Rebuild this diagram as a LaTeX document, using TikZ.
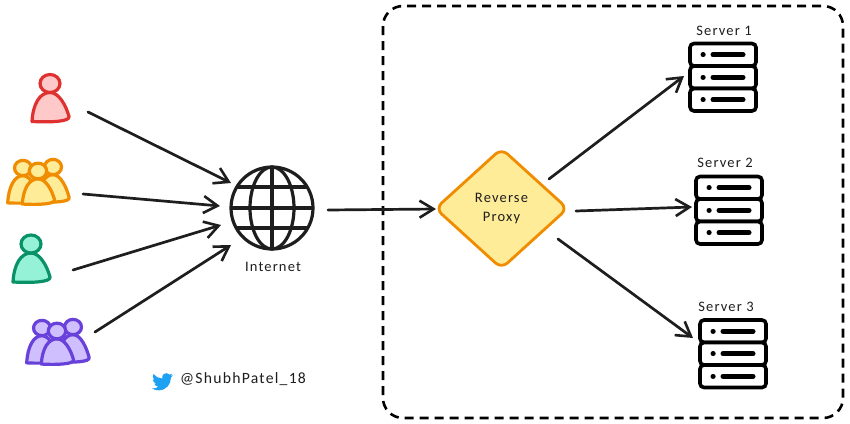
\documentclass[tikz,border=0pt]{standalone}
\usepackage{fontspec}
\setmainfont[LetterSpace=8]{Carlito}
\usetikzlibrary{arrows.meta,shapes.geometric}
\definecolor{redS}{HTML}{E03131}\definecolor{redF}{HTML}{FFC9C9}
\definecolor{orgS}{HTML}{F08C00}\definecolor{orgF}{HTML}{FFEC99}
\definecolor{grnS}{HTML}{099268}\definecolor{grnF}{HTML}{96F2D7}
\definecolor{purS}{HTML}{6741D9}\definecolor{purF}{HTML}{D0BFFF}
\definecolor{ink}{HTML}{1E1E1E}\definecolor{bird}{HTML}{1DA1F2}
\tikzset{
 x=1pt,y=-1pt,
 conn/.style={draw=ink,line width=2.7pt,line cap=round,-{Straight Barb[length=14pt,width=17pt,line width=2.6pt]}},
 label/.style={text=ink,font=\fontsize{14.5}{16}\selectfont,inner sep=0pt,align=center},
 person/.pic={
  \path[pic actions,line width=3.2pt,line join=round] (-18,38) .. controls (-17,20) and (-10,9) .. (0,9)
    .. controls (9,9) and (16,22) .. (19,33) .. controls (20,38) and (2,39) .. (-18,38) -- cycle;
  \path[pic actions,line width=3.2pt] (0,0) ellipse[x radius=10,y radius=9];
 },
 sideperson/.pic={
  \path[pic actions,line width=3.2pt,line join=round] (-18,41) .. controls (-17,22) and (-10,9) .. (0,9)
    .. controls (9,9) and (16,24) .. (19,36) .. controls (20,41) and (2,42) .. (-18,41) -- cycle;
  \path[pic actions,line width=3.2pt] (0,0) ellipse[x radius=10,y radius=9];
 },
 serverrow/.pic={
  \draw[black,line width=3.6pt,fill=white,rounded corners=4pt] (0,0) rectangle (66,22.5);
  \draw[black,line width=5pt,line cap=round] (13,11.2) -- (13.2,11.2) (23,11.2) -- (53,11.2);
 },
 server/.pic={
  \pic at (0,0) {serverrow};
  \pic at (0,22.5) {serverrow};
  \pic at (0,45) {serverrow};
 }
}
\begin{document}
\begin{tikzpicture}
\useasboundingbox (0,0) rectangle (850,423);
\fill[white] (0,0) rectangle (850,423);

% dashed frame
\draw[black,line width=2.6pt,dashed,dash pattern=on 9pt off 6pt,rounded corners=20pt] (383,6) rectangle (843,418);

% users
\pic[fill=redF,draw=redS] at (50,83.5) {person};
\pic[fill=orgF,draw=orgS,scale=.85] at (23,168) {sideperson};
\pic[fill=orgF,draw=orgS,scale=.85] at (53,167) {sideperson};
\pic[fill=orgF,draw=orgS,scale=.87] at (38,171) {person};
\pic[fill=grnF,draw=grnS] at (31,244) {person};
\pic[fill=purF,draw=purS,scale=.85] at (42,328) {sideperson};
\pic[fill=purF,draw=purS,scale=.85] at (73,327) {sideperson};
\pic[fill=purF,draw=purS,scale=.87] at (57,331) {person};

% globe
\begin{scope}[shift={(272,208)},ink,line width=3.2pt]
 \draw (0,0) circle[radius=41];
 \draw (0,-41) -- (0,41) (-41,0) -- (41,0);
 \draw (0,0) ellipse[x radius=22,y radius=41];
 \draw (-35,-21) -- (35,-21) (-35,20) -- (35,20);
\end{scope}
\node[label] (internet) at (273,267) {Internet};

% proxy
\node[diamond,draw=orgS,fill=orgF,line width=2.8pt,minimum width=133pt,minimum height=121pt,inner sep=0pt,
  rounded corners=8pt,label,text=ink] (proxy) at (501.5,208.5) {Reverse\\[3pt]Proxy};

% servers
\pic at (690,43.5) {server};
\pic at (696,176.5) {server};
\pic at (700,320) {server};
\node[label] (s1) at (724,31) {Server 1};
\node[label] (s2) at (725,163) {Server 2};
\node[label] (s3) at (726,307) {Server 3};

% connector ends
\coordinate (u1) at (88,112);   \coordinate (g1) at (231,183);
\coordinate (u2) at (83,194);   \coordinate (g2) at (220,206);
\coordinate (u3) at (73,270);   \coordinate (g3) at (221,225);
\coordinate (u4) at (95,332);   \coordinate (g4) at (231,245);
\coordinate (go) at (328,210);  \coordinate (pi) at (436,209);
\coordinate (p1) at (549,179);  \coordinate (t1) at (684,76);
\coordinate (p2) at (576,211);  \coordinate (t2) at (692,207);
\coordinate (p3) at (558,239);  \coordinate (t3) at (693,338);
\draw[conn] (u1) -- (g1);
\draw[conn] (u2) -- (g2);
\draw[conn] (u3) -- (g3);
\draw[conn] (u4) -- (g4);
\draw[conn] (go) -- (pi);
\draw[conn] (p1) -- (t1);
\draw[conn] (p2) -- (t2);
\draw[conn] (p3) -- (t3);

% twitter handle
\begin{scope}[shift={(152,371.3)},x=.875pt,y=-.875pt]
 \fill[bird] (23.95,4.57) .. controls (23.1,4.95) and (22.1,5.2) .. (21.13,5.35)
  .. controls (22.1,4.7) and (22.9,3.75) .. (23.29,2.62)
  .. controls (22.34,3.18) and (21.28,3.58) .. (20.16,3.80)
  .. controls (18.5,2.0) and (15.6,1.5) .. (13.5,3.0)
  .. controls (11.9,4.2) and (11.3,6.4) .. (11.78,8.28)
  .. controls (7.69,8.10) and (4.07,6.13) .. (1.64,3.16)
  .. controls (1.2,3.9) and (.97,4.75) .. (.97,5.64)
  .. controls (.97,7.35) and (1.84,8.85) .. (3.16,9.73)
  .. controls (2.35,9.7) and (1.6,9.5) .. (.93,9.12)
  -- (.93,9.18) .. controls (.93,11.55) and (2.6,13.55) .. (4.88,14.0)
  .. controls (4.15,14.2) and (3.4,14.23) .. (2.67,14.09)
  .. controls (3.3,16.05) and (5.15,17.45) .. (7.27,17.51)
  .. controls (5.55,18.85) and (3.4,19.61) .. (1.17,19.61)
  .. controls (.78,19.61) and (.39,19.59) .. (0,19.55)
  .. controls (2.2,20.95) and (4.8,21.76) .. (7.56,21.76)
  .. controls (16.6,21.76) and (21.55,14.26) .. (21.55,7.77)
  .. controls (21.55,7.56) and (21.55,7.35) .. (21.54,7.14)
  .. controls (22.5,6.45) and (23.35,5.55) .. (24,4.59) -- cycle;
\end{scope}
\node[label,font=\fontsize{15.7}{18}\selectfont] (handle) at (243,379) {@ShubhPatel\_18};
\end{tikzpicture}
\end{document}
